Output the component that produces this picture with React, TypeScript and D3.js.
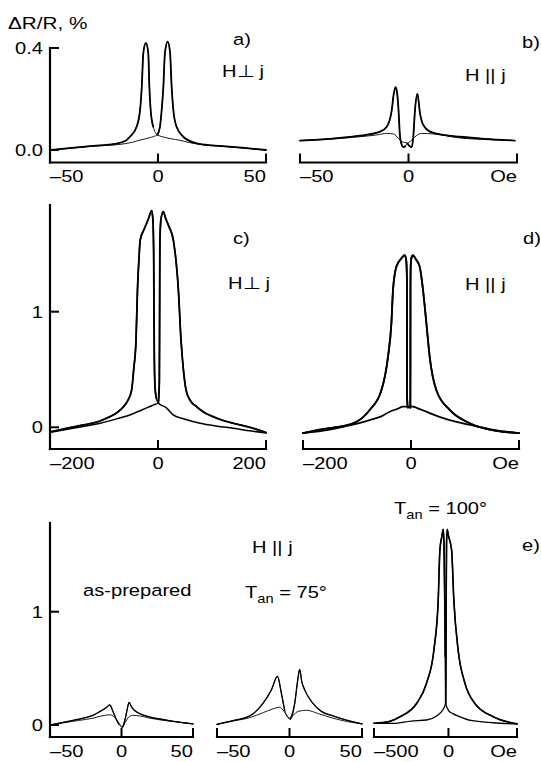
import React from "react";
import * as d3 from "d3";

type Pt = [number, number];

// a) H ⊥ j, field in Oe, dR/R in %
const aDown: Pt[] = [[-50, 0.0], [-40, 0.008], [-30, 0.016], [-20, 0.024], [-15, 0.036], [-13, 0.052], [-9.9, 0.091], [-8.3, 0.157], [-7.5, 0.25], [-6.8, 0.38], [-5.6, 0.42], [-4.5, 0.38], [-4, 0.25], [-3.4, 0.157], [-2.2, 0.091], [-0.3, 0.06], [3, 0.05], [6, 0.044], [10.2, 0.038], [14, 0.03], [19.4, 0.022], [30, 0.014], [40, 0.007], [50, 0.0]];
const aUp: Pt[] = [[-50, 0.0], [-40, 0.007], [-30, 0.015], [-17.6, 0.022], [-12, 0.03], [-8.3, 0.039], [-4, 0.048], [-0.3, 0.06], [0.9, 0.091], [1.7, 0.157], [2.5, 0.25], [3.2, 0.38], [4.5, 0.425], [5.6, 0.38], [6.3, 0.25], [7.1, 0.157], [8.6, 0.091], [11.7, 0.052], [17.9, 0.026], [25, 0.018], [30, 0.015], [40, 0.008], [50, 0.0]];

// b) H || j
const bDown: Pt[] = [[-50, 0.037], [-35, 0.045], [-22.4, 0.056], [-13.1, 0.072], [-10, 0.091], [-7.7, 0.157], [-6.8, 0.22], [-5.9, 0.246], [-5.2, 0.22], [-4.7, 0.17], [-3.9, 0.052], [-3.1, 0.02], [-2.4, 0.011], [-1.5, 0.015], [-0.5, 0.026], [0.7, 0.033], [3, 0.052], [6, 0.065], [11.4, 0.063], [23.7, 0.047], [35, 0.041], [49, 0.037]];
const bUp: Pt[] = [[-50, 0.037], [-35, 0.043], [-22.4, 0.052], [-14.7, 0.059], [-10, 0.065], [-6.9, 0.063], [-4.7, 0.046], [-3.1, 0.033], [-0.5, 0.026], [0.5, 0.015], [1.5, 0.011], [2.2, 0.052], [3.0, 0.157], [4.1, 0.22], [5.3, 0.144], [6.8, 0.098], [9.9, 0.072], [16, 0.059], [23.7, 0.052], [35, 0.044], [49, 0.037]];

// c) H ⊥ j, wide field
const cDown: Pt[] = [[-200, -0.04], [-170, -0.01], [-138, 0.02], [-110, 0.05], [-89, 0.092], [-75, 0.13], [-64, 0.178], [-55, 0.24], [-48.8, 0.323], [-45, 0.5], [-40.7, 0.755], [-38, 1.19], [-35, 1.48], [-33, 1.62], [-25, 1.72], [-18, 1.8], [-11.7, 1.874], [-9.5, 1.8], [-8, 1.5], [-7.4, 1.0], [-6.8, 0.6], [-5.5, 0.35], [-3, 0.25], [0.6, 0.21], [15, 0.17], [28, 0.107], [50, 0.07], [78, 0.035], [110, 0.01], [139, -0.008], [170, -0.03], [200, -0.05]];
const cUp: Pt[] = [[-200, -0.045], [-160, -0.01], [-107, 0.035], [-75, 0.075], [-52, 0.107], [-30, 0.15], [-15, 0.18], [-5, 0.2], [0.6, 0.21], [2.5, 0.4], [3, 1.0], [3.5, 1.6], [5.5, 1.8], [9.8, 1.865], [14, 1.81], [20, 1.74], [28.4, 1.62], [37.7, 1.19], [42.6, 0.755], [47, 0.5], [51.9, 0.323], [60, 0.23], [71.6, 0.178], [85, 0.13], [102, 0.092], [120, 0.06], [139, 0.035], [170, 0.0], [200, -0.045]];

// d) H || j, wide field
const dDown: Pt[] = [[-200, -0.05], [-169, -0.02], [-107, 0.035], [-76.5, 0.15], [-54.8, 0.32], [-42.6, 0.61], [-36.3, 0.9], [-33.3, 1.19], [-27, 1.39], [-18, 1.46], [-11.7, 1.49], [-9, 1.45], [-7.6, 1.3], [-7.4, 0.8], [-7.2, 0.25], [-6, 0.17], [-3, 0.175], [0, 0.18], [3.7, 0.178], [15, 0.16], [28.5, 0.135], [50, 0.095], [71.7, 0.063], [110, 0.02], [150, -0.02], [200, -0.05]];
const dUp: Pt[] = [[-200, -0.05], [-150, -0.02], [-110, 0.02], [-76.5, 0.063], [-55, 0.095], [-39.4, 0.135], [-25, 0.16], [-14.8, 0.178], [-5, 0.178], [-1.3, 0.17], [-1.1, 0.5], [-1, 1.2], [-0.5, 1.4], [1, 1.47], [3.7, 1.49], [8, 1.46], [16.1, 1.39], [22.2, 1.19], [28.5, 0.9], [34.6, 0.61], [47, 0.32], [71.7, 0.15], [108.7, 0.035], [170, -0.04], [200, -0.05]];

// e) H || j after annealing: as-prepared, 75°, 100°
const e1Down: Pt[] = [[-50, 0.0], [-40, 0.025], [-26.8, 0.06], [-20, 0.085], [-15, 0.12], [-11, 0.15], [-8.2, 0.177], [-6, 0.12], [-4, 0.06], [-2, 0.01], [0.7, -0.02], [2.5, 0.02], [5, 0.07], [8, 0.085], [12.8, 0.08], [20, 0.06], [30, 0.04], [40, 0.025], [50, 0.01]];
const e1Up: Pt[] = [[-50, 0.0], [-40, 0.02], [-30, 0.04], [-20, 0.06], [-14, 0.08], [-8.2, 0.09], [-5, 0.07], [-2, 0.02], [0.7, -0.02], [2.5, 0.05], [4, 0.14], [5.3, 0.2], [7, 0.16], [9, 0.13], [12.8, 0.1], [20, 0.07], [26.7, 0.053], [35, 0.035], [50, 0.01]];
const e2Down: Pt[] = [[-50, 0.006], [-39, 0.038], [-27.4, 0.08], [-18.3, 0.19], [-12.5, 0.31], [-8.3, 0.43], [-5.6, 0.28], [-3.3, 0.13], [-0.3, 0.06], [2.4, 0.085], [6, 0.12], [11.7, 0.13], [20, 0.1], [30, 0.06], [40, 0.03], [50, 0.01]];
const e2Up: Pt[] = [[-50, 0.006], [-39, 0.035], [-27.4, 0.065], [-18, 0.11], [-12, 0.14], [-6.8, 0.157], [-2.1, 0.09], [0.6, 0.05], [3.6, 0.19], [5.5, 0.38], [7, 0.49], [8.5, 0.38], [10.5, 0.31], [16.2, 0.19], [22, 0.12], [30, 0.08], [40, 0.04], [50, 0.01]];
const e3Down: Pt[] = [[-500, 0.015], [-400, 0.03], [-325, 0.073], [-214, 0.19], [-147, 0.37], [-98, 0.66], [-69, 1.1], [-57.6, 1.545], [-45, 1.66], [-35, 1.727], [-30, 1.6], [-25, 1.1], [-22, 0.6], [-19, 0.19], [0, 0.13], [30, 0.1], [76, 0.073], [150, 0.04], [300, 0.02], [460, 0.01]];
const e3Up: Pt[] = [[-500, 0.015], [-370, 0.015], [-250, 0.035], [-147, 0.044], [-80, 0.08], [-40, 0.13], [-19, 0.19], [-17, 0.5], [-15, 1.2], [-13, 1.6], [-9, 1.727], [0, 1.67], [21, 1.545], [36, 1.1], [65, 0.66], [110, 0.37], [177, 0.19], [300, 0.073], [460, 0.01]];

// ticks
const smallTicks = [-50, 0, 50];
const smallLabels = ["–50", "0", "50"];
const smallLabelsOe = ["–50", "0", "Oe"];
const wideTicks = [-200, 0, 200];
const wideLabels = ["–200", "0", "200"];
const wideLabelsOe = ["–200", "0", "Oe"];
const e3Ticks = [-500, 0, 460];
const e3Labels = ["–500", "0", "Oe"];
const topYTicks = [0, 0.4];
const topYLabels = ["0.0", "0.4"];
const unitYTicks = [0, 1];
const unitYLabels = ["0", "1"];

const FONT = "'Liberation Sans', Arial, Helvetica, sans-serif";
const SX = 1.22; // the scanned figure is stretched horizontally

function Label({ x, y, anchor = "start", size = 16.5, children }: any) {
  return (
    <text transform={`translate(${x},${y}) scale(${SX},1)`} textAnchor={anchor} fontSize={size} fill="#000">
      {children}
    </text>
  );
}

function XAxis({ x, y, ticks, labels }: any) {
  const [x0, x1] = x.range();
  return (
    <g>
      <line x1={x0} x2={x1} y1={y} y2={y} stroke="#000" strokeWidth={2.2} strokeLinecap="square" />
      {ticks.map((t: number) => (
        <line key={t} x1={x(t)} x2={x(t)} y1={y} y2={y - 9} stroke="#000" strokeWidth={2} />
      ))}
      {ticks.map((t: number, i: number) => (
        <Label key={"l" + t} x={x(t)} y={y + 19.5}
          anchor={i === 0 ? "start" : i === ticks.length - 1 ? "end" : "middle"}>
          {labels[i]}
        </Label>
      ))}
    </g>
  );
}

function YAxis({ x, y, top, bottom, ticks, labels }: any) {
  return (
    <g>
      <line x1={x} x2={x} y1={top} y2={bottom} stroke="#000" strokeWidth={2.2} strokeLinecap="square" />
      {ticks.map((t: number, i: number) => (
        <g key={t}>
          <line x1={x} x2={x + 9} y1={y(t)} y2={y(t)} stroke="#000" strokeWidth={2} />
          <Label x={x - 7} y={y(t) + 6} anchor="end">{labels[i]}</Label>
        </g>
      ))}
    </g>
  );
}

function Loop({ x, y, down, up, bold, thin }: any) {
  const line = d3.line<Pt>().x((d) => x(d[0])).y((d) => y(d[1])).curve(d3.curveMonotoneX);
  const peak = (c: Pt[]) => (d3.greatest(c, (d) => d[1]) as Pt)[0];
  const split = (peak(down) + peak(up)) / 2;
  const downBold = down.filter((d: Pt) => d[0] <= split);
  const upBold = up.filter((d: Pt) => d[0] >= split);
  return (
    <g fill="none" stroke="#000" strokeLinejoin="round" strokeLinecap="round">
      <path d={line(down) || ""} strokeWidth={thin} />
      <path d={line(up) || ""} strokeWidth={thin} />
      <path d={line(downBold) || ""} strokeWidth={bold} />
      <path d={line(upBold) || ""} strokeWidth={bold} />
    </g>
  );
}

export default function App() {
  // top row
  const xA = d3.scaleLinear().domain([-50, 50]).range([50, 266]);
  const xB = d3.scaleLinear().domain([-50, 50]).range([300, 517]);
  const yTop = d3.scaleLinear().domain([0, 0.4]).range([150, 48]);
  // middle row
  const xC = d3.scaleLinear().domain([-200, 200]).range([50, 266]);
  const xD = d3.scaleLinear().domain([-200, 200]).range([303, 519]);
  const yMid = d3.scaleLinear().domain([0, 1]).range([427.3, 311.7]);
  // bottom row
  const xE1 = d3.scaleLinear().domain([-50, 50]).range([50, 193]);
  const xE2 = d3.scaleLinear().domain([-50, 50]).range([217, 362]);
  const xE3 = d3.scaleLinear().domain([-500, 460]).range([374, 517]);
  const yBot = d3.scaleLinear().domain([0, 1]).range([725, 611.7]);

  return (
    <svg width={541} height={762} style={{ position: "absolute", left: 0, top: 0, background: "#fff" }} fontFamily={FONT}>
      <rect width={541} height={762} fill="#fff" />

      {/* a */}
      <Label x={8} y={29} size={17}>ΔR/R, %</Label>
      <YAxis x={50} y={yTop} top={48} bottom={162.5} ticks={topYTicks} labels={topYLabels} />
      <XAxis x={xA} y={162.5} ticks={smallTicks} labels={smallLabels} />
      <Loop x={xA} y={yTop} down={aDown} up={aUp} bold={1.8} thin={0.9} />
      <Label x={233} y={45}>a)</Label>
      <Label x={222} y={77}>H⊥ j</Label>

      {/* b */}
      <XAxis x={xB} y={162.5} ticks={smallTicks} labels={smallLabelsOe} />
      <Loop x={xB} y={yTop} down={bDown} up={bUp} bold={1.8} thin={0.9} />
      <Label x={522} y={48}>b)</Label>
      <Label x={465} y={81}>H || j</Label>

      {/* c */}
      <YAxis x={50} y={yMid} top={205} bottom={449} ticks={unitYTicks} labels={unitYLabels} />
      <XAxis x={xC} y={449} ticks={wideTicks} labels={wideLabels} />
      <Loop x={xC} y={yMid} down={cDown} up={cUp} bold={1.8} thin={1.5} />
      <Label x={233} y={244}>c)</Label>
      <Label x={228} y={289}>H⊥ j</Label>

      {/* d */}
      <XAxis x={xD} y={449} ticks={wideTicks} labels={wideLabelsOe} />
      <Loop x={xD} y={yMid} down={dDown} up={dUp} bold={1.8} thin={1.8} />
      <Label x={523} y={244}>d)</Label>
      <Label x={465} y={290}>H || j</Label>

      {/* e */}
      <YAxis x={50} y={yBot} top={523} bottom={737} ticks={unitYTicks} labels={unitYLabels} />
      <XAxis x={xE1} y={737} ticks={smallTicks} labels={smallLabels} />
      <XAxis x={xE2} y={737} ticks={smallTicks} labels={smallLabels} />
      <XAxis x={xE3} y={737} ticks={e3Ticks} labels={e3Labels} />
      <Loop x={xE1} y={yBot} down={e1Down} up={e1Up} bold={1.3} thin={0.9} />
      <Loop x={xE2} y={yBot} down={e2Down} up={e2Up} bold={1.3} thin={0.9} />
      <Loop x={xE3} y={yBot} down={e3Down} up={e3Up} bold={1.6} thin={1.3} />
      <Label x={83} y={596}>as-prepared</Label>
      <Label x={252} y={553}>H || j</Label>
      <Label x={245} y={598}>T<tspan fontSize={12} dy={5}>an</tspan><tspan dy={-5}> = 75°</tspan></Label>
      <Label x={394} y={514}>T<tspan fontSize={12} dy={5}>an</tspan><tspan dy={-5}> = 100°</tspan></Label>
      <Label x={522} y={551}>e)</Label>
    </svg>
  );
}
